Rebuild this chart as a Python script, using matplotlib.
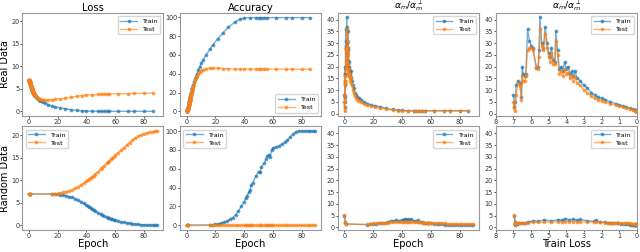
import matplotlib
matplotlib.use('Agg')
import matplotlib.pyplot as plt
from matplotlib.ticker import MultipleLocator

# ---- real data (top row) ----
real_epoch = [0.00, 0.05, 0.10, 0.15, 0.25, 0.35, 0.45, 0.50, 0.55, 0.65, 0.70, 0.80, 0.90, 1.00,
              1.10, 1.30, 1.40, 1.45, 1.50, 1.60, 1.70, 1.80, 1.90, 2.00, 2.10, 2.15, 2.25, 2.35,
              2.40, 2.50, 2.65, 2.80, 2.95, 3.10, 3.25, 3.45, 3.65, 3.85, 4.05, 4.30, 4.55, 5.10,
              5.70, 6.40, 7.20, 8.10, 9.00, 10.0, 11.5, 13.5, 16.0, 18.5, 21.5, 25.0, 29.0, 33.5,
              37.0, 40.0, 44.0, 48.0, 50.0, 52.0, 54.0, 56.0, 62.0, 69.0, 73.0, 80.0, 86.0]
real_train_loss = [7.00, 6.95, 6.90, 6.85, 6.75, 6.65, 6.55, 6.50, 6.45, 6.35, 6.30, 6.20, 6.10, 6.00,
                   5.90, 5.70, 5.60, 5.55, 5.50, 5.40, 5.30, 5.20, 5.10, 5.00, 4.90, 4.85, 4.75, 4.65,
                   4.60, 4.50, 4.40, 4.30, 4.20, 4.10, 4.00, 3.90, 3.80, 3.70, 3.60, 3.50, 3.40, 3.20,
                   3.00, 2.80, 2.60, 2.40, 2.20, 2.00, 1.80, 1.50, 1.20, 1.00, 0.80, 0.60, 0.40, 0.20,
                   0.10, 0.05, 0.03, 0.02, 0.02, 0.02, 0.01, 0.01, 0.01, 0.01, 0.01, 0.01, 0.01]
real_test_loss = [7.00, 6.96, 6.92, 6.88, 6.80, 6.72, 6.62, 6.58, 6.52, 6.45, 6.40, 6.30, 6.20, 6.10,
                  6.00, 5.80, 5.70, 5.65, 5.60, 5.50, 5.40, 5.30, 5.20, 5.10, 5.00, 4.95, 4.85, 4.75,
                  4.70, 4.60, 4.50, 4.40, 4.30, 4.20, 4.10, 4.00, 3.90, 3.80, 3.70, 3.60, 3.50, 3.30,
                  3.10, 2.95, 2.82, 2.70, 2.62, 2.58, 2.55, 2.56, 2.62, 2.68, 2.78, 2.92, 3.15, 3.38,
                  3.52, 3.62, 3.70, 3.76, 3.80, 3.82, 3.85, 3.87, 3.92, 3.97, 3.99, 4.02, 4.05]
real_train_acc = [0.0, 0.1, 0.2, 0.3, 0.5, 0.8, 1.0, 1.2, 1.5, 2.0, 2.3, 3.0, 3.6, 4.2,
                  5.0, 6.5, 7.2, 7.5, 8.0, 8.7, 9.4, 10.0, 10.8, 11.5, 12.2, 12.6, 13.3, 14.0,
                  14.4, 15.1, 16.0, 17.0, 18.0, 19.0, 20.0, 21.3, 22.6, 23.8, 25.0, 26.5, 28.0, 31.0,
                  34.0, 37.0, 40.0, 43.5, 47.0, 51.0, 55.0, 60.0, 66.0, 71.0, 77.0, 83.0, 89.5, 95.0,
                  98.0, 99.2, 99.5, 99.5, 99.6, 99.6, 99.6, 99.6, 99.6, 99.6, 99.6, 99.6, 99.6]
real_test_acc = [0.0, 0.1, 0.1, 0.2, 0.3, 0.5, 0.7, 0.9, 1.1, 1.5, 1.8, 2.4, 3.0, 3.6,
                 4.3, 5.8, 6.5, 6.8, 7.2, 8.0, 8.7, 9.4, 10.1, 10.9, 11.6, 12.0, 12.7, 13.4,
                 13.8, 14.5, 15.4, 16.4, 17.4, 18.4, 19.4, 20.6, 21.9, 23.0, 24.2, 25.6, 27.0, 30.0,
                 32.8, 35.5, 38.0, 40.0, 41.5, 43.0, 44.2, 45.3, 46.0, 46.0, 45.8, 45.5, 45.2, 45.0,
                 45.0, 45.0, 45.0, 45.0, 45.0, 45.0, 45.0, 45.0, 44.9, 44.9, 44.9, 44.8, 44.8]
real_train_ratio = [8.0, 3.0, 5.0, 12.0, 14.0, 13.0, 7.0, 20.0, 17.0, 16.0, 17.0, 36.0, 31.0, 29.0,
                    28.0, 19.5, 20.0, 27.0, 41.0, 30.0, 28.0, 37.0, 30.0, 26.0, 24.0, 28.0, 23.0, 22.0,
                    35.0, 27.0, 19.0, 20.0, 18.0, 22.0, 19.0, 20.0, 17.0, 18.0, 16.0, 18.0, 15.0, 14.0,
                    12.0, 11.0, 9.0, 8.0, 7.0, 6.5, 6.0, 5.0, 4.3, 3.8, 3.3, 2.8, 2.3, 1.8,
                    1.5, 1.4, 1.3, 1.3, 1.3, 1.3, 1.3, 1.3, 1.3, 1.3, 1.3, 1.3, 1.3]
real_test_ratio = [5.0, 2.5, 1.0, 8.0, 13.0, 12.0, 6.0, 16.0, 14.0, 14.0, 16.0, 27.0, 28.0, 28.0,
                   27.0, 20.0, 19.0, 24.0, 36.0, 29.0, 27.0, 34.0, 28.0, 24.0, 22.0, 26.0, 21.0, 21.0,
                   31.0, 25.0, 17.0, 18.0, 16.0, 19.0, 17.0, 17.5, 15.0, 16.0, 14.0, 15.5, 13.0, 12.0,
                   10.0, 9.0, 7.5, 6.5, 6.0, 5.5, 5.0, 4.2, 3.6, 3.2, 2.7, 2.3, 1.9, 1.5,
                   1.3, 1.2, 1.1, 1.1, 1.1, 1.1, 1.1, 1.1, 1.1, 1.1, 1.1, 1.1, 1.1]

# ---- random data (bottom row) ----
rand_epoch = [0, 0.5, 1, 16, 18, 20, 22, 24, 26, 28, 30, 32, 34, 36, 38, 40, 41, 42, 43, 44, 45, 46,
              48, 50, 51, 52, 54, 55, 56, 57, 58, 59, 60, 62, 64, 66, 68, 70, 72, 74, 76, 78, 80,
              82, 84, 86, 88, 89]
rand_train_loss = [6.95, 6.92, 6.92, 6.91, 6.90, 6.88, 6.80, 6.68, 6.52, 6.35, 6.15, 5.90, 5.60, 5.25,
                   4.85, 4.45, 4.25, 4.05, 3.85, 3.60, 3.40, 3.20, 2.80, 2.45, 2.30, 2.10, 1.80, 1.65,
                   1.50, 1.40, 1.30, 1.15, 1.05, 0.90, 0.75, 0.62, 0.50, 0.40, 0.30, 0.22, 0.15, 0.10,
                   0.07, 0.05, 0.04, 0.03, 0.03, 0.02]
rand_test_loss = [6.95, 6.94, 6.93, 6.93, 6.95, 7.02, 7.15, 7.28, 7.45, 7.65, 7.88, 8.15, 8.50, 8.90,
                  9.30, 9.75, 9.98, 10.22, 10.48, 10.75, 11.00, 11.30, 11.90, 12.50, 12.80, 13.10, 13.70,
                  14.00, 14.30, 14.60, 14.90, 15.20, 15.50, 16.10, 16.70, 17.25, 17.80, 18.35, 18.85,
                  19.30, 19.70, 20.05, 20.30, 20.50, 20.65, 20.75, 20.85, 20.90]
rand_train_acc = [0.1, 0.1, 0.1, 0.2, 0.4, 0.8, 1.2, 2.0, 3.0, 4.2, 6.0, 8.0, 11.0, 15.0, 20.0, 25.0,
                  29.0, 31.0, 35.0, 37.0, 43.0, 45.0, 52.0, 57.0, 56.0, 62.0, 66.0, 70.0, 73.0, 75.0,
                  72.0, 80.0, 82.0, 83.0, 84.0, 86.0, 88.0, 90.0, 94.0, 97.0, 99.5, 100, 100, 100,
                  100, 100, 100, 100]
rand_test_acc = [0.1, 0.1, 0.1, 0.1, 0.1, 0.1, 0.1, 0.1, 0.1, 0.1, 0.1, 0.1, 0.1, 0.1, 0.1, 0.1,
                 0.1, 0.1, 0.1, 0.1, 0.1, 0.1, 0.1, 0.1, 0.1, 0.1, 0.1, 0.1, 0.1, 0.1, 0.1, 0.1,
                 0.1, 0.1, 0.1, 0.1, 0.1, 0.1, 0.1, 0.1, 0.1, 0.1, 0.1, 0.1, 0.1, 0.1, 0.1, 0.1]
rand_train_ratio = [5.0, 2.5, 1.5, 1.2, 1.4, 1.5, 1.6, 1.8, 1.9, 2.0, 2.4, 2.8, 2.6, 3.2, 2.8, 3.3,
                    3.0, 3.8, 3.2, 3.6, 3.0, 3.4, 2.8, 2.6, 3.0, 2.4, 2.2, 2.0, 2.1, 1.9, 2.0, 1.8,
                    1.8, 1.6, 1.5, 1.4, 1.3, 1.2, 1.1, 1.1, 1.0, 1.0, 1.0, 1.0, 1.0, 1.0, 1.0, 1.0]
rand_test_ratio = [5.2, 2.0, 1.4, 1.3, 1.6, 1.7, 1.8, 1.9, 2.0, 2.0, 2.1, 2.2, 2.2, 2.3, 2.3, 2.4,
                   2.4, 2.5, 2.4, 2.5, 2.4, 2.4, 2.3, 2.3, 2.2, 2.2, 2.1, 2.1, 2.0, 2.0, 2.0, 1.9,
                   1.9, 1.9, 1.8, 1.8, 1.7, 1.7, 1.6, 1.6, 1.6, 1.5, 1.5, 1.5, 1.5, 1.5, 1.5, 1.5]

titles = ['Loss', 'Accuracy', r'$\alpha_m$/$\alpha_m^{\perp}$', r'$\alpha_m$/$\alpha_m^{\perp}$']
row_labels = ['Real Data', 'Random Data']
legend_locs = [['upper right', 'lower right', 'upper right', 'upper right'],
               ['upper left', 'upper left', 'upper right', 'upper right']]

fig, axes = plt.subplots(2, 4, figsize=(6.4, 2.52), dpi=100)
plt.subplots_adjust(left=0.035, right=0.995, top=0.95, bottom=0.088, hspace=0.1, wspace=0.12)

for c in range(3):
    axes[0, c].sharex(axes[1, c])
for c in range(2):
    axes[0, c].sharey(axes[1, c])
for r in range(2):
    axes[r, 2].sharey(axes[0, 3])
    axes[r, 3].sharey(axes[0, 3])

rows = [
    (real_epoch, real_train_loss, real_test_loss, real_train_acc, real_test_acc,
     real_train_ratio, real_test_ratio),
    (rand_epoch, rand_train_loss, rand_test_loss, rand_train_acc, rand_test_acc,
     rand_train_ratio, rand_test_ratio),
]

style = dict(marker='*', markersize=2.5, linewidth=1.0, alpha=0.6)

for r, (ep, trl, tel, tra, tea, trr, ter) in enumerate(rows):
    series = [(ep, trl, tel), (ep, tra, tea), (ep, trr, ter), (trl, trr, ter)]
    for c, (x, ytr, yte) in enumerate(series):
        ax = axes[r, c]
        ax.plot(x, ytr, color='C0', label='Train', **style)
        ax.plot(x, yte, color='C1', label='Test', **style)
        ax.legend(loc=legend_locs[r][c], fontsize=4.6, handlelength=2.6,
                  borderpad=0.4, labelspacing=0.4, framealpha=0.8)
        ax.tick_params(labelsize=4.7, length=1.5, width=0.6, pad=0.8, colors='#333333')
        for s in ax.spines.values():
            s.set_color('#999999')
            s.set_linewidth(0.8)
        if r == 0:
            if c < 2:
                ax.set_title(titles[c], fontsize=7.2, pad=1.0)
            else:
                ax.set_title(titles[c], fontsize=6.6, pad=-1.0)
        if c == 0:
            ax.set_ylabel(row_labels[r], fontsize=7.0, labelpad=0.5)
        if r == 1:
            ax.set_xlabel('Train Loss' if c == 3 else 'Epoch', fontsize=7.2, labelpad=0.3)

for r in range(2):
    axes[r, 0].yaxis.set_major_locator(MultipleLocator(5))
    axes[r, 1].yaxis.set_major_locator(MultipleLocator(20))
    axes[r, 2].yaxis.set_major_locator(MultipleLocator(5))
    axes[r, 3].yaxis.set_major_locator(MultipleLocator(5))
    for c in range(3):
        axes[r, c].xaxis.set_major_locator(MultipleLocator(20))
    axes[r, 3].set_xlim(8, 0)
    axes[r, 3].xaxis.set_major_locator(MultipleLocator(1))

plt.savefig('out.png', dpi=100)
